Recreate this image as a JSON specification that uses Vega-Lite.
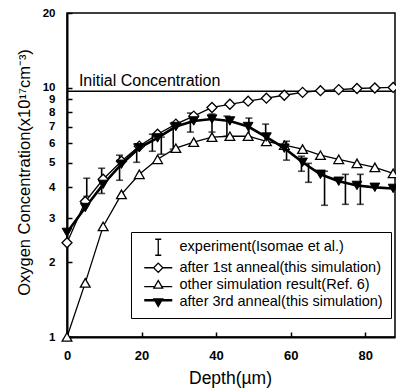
{
  "$schema": "https://vega.github.io/schema/vega-lite/v6.json",
  "width": 328,
  "height": 324,
  "autosize": {"type": "none"},
  "padding": {"left": 67, "top": 13, "right": 1, "bottom": 51},
  "background": "white",
  "config": {
    "view": {"stroke": "black", "strokeWidth": 1.5},
    "font": "Liberation Sans",
    "axis": {"grid": false, "domainColor": "black", "domainWidth": 2, "tickColor": "black", "tickWidth": 1.5, "tickSize": -5, "labelColor": "black", "titleColor": "black", "labelFont": "Liberation Sans", "titleFont": "Liberation Sans", "labelFontSize": 13, "labelFontWeight": "bold", "titleFontWeight": "normal", "labelFlush": false, "labelOverlap": false, "labelPadding": 17}
  },
  "datasets": {
    "init": [{"label": "Initial Concentration", "y": 9.7}],
    "legendrows": [
      {"series": "experiment(Isomae et al.)"},
      {"series": "after 1st anneal(this simulation)"},
      {"series": "other simulation result(Ref. 6)"},
      {"series": "after 3rd anneal(this simulation)"}
    ],
    "sim": [
      {"series": "after 1st anneal(this simulation)", "x": 0, "y": 2.39},
      {"series": "after 1st anneal(this simulation)", "x": 4.9, "y": 3.5},
      {"series": "after 1st anneal(this simulation)", "x": 9.7, "y": 4.3},
      {"series": "after 1st anneal(this simulation)", "x": 14.6, "y": 5.08},
      {"series": "after 1st anneal(this simulation)", "x": 19.4, "y": 5.84},
      {"series": "after 1st anneal(this simulation)", "x": 24.3, "y": 6.52},
      {"series": "after 1st anneal(this simulation)", "x": 29.2, "y": 7.16},
      {"series": "after 1st anneal(this simulation)", "x": 34, "y": 7.71},
      {"series": "after 1st anneal(this simulation)", "x": 38.9, "y": 8.35},
      {"series": "after 1st anneal(this simulation)", "x": 43.7, "y": 8.6},
      {"series": "after 1st anneal(this simulation)", "x": 48.6, "y": 8.85},
      {"series": "after 1st anneal(this simulation)", "x": 53.5, "y": 9.1},
      {"series": "after 1st anneal(this simulation)", "x": 58.3, "y": 9.35},
      {"series": "after 1st anneal(this simulation)", "x": 63.2, "y": 9.6},
      {"series": "after 1st anneal(this simulation)", "x": 68, "y": 9.75},
      {"series": "after 1st anneal(this simulation)", "x": 72.9, "y": 9.85},
      {"series": "after 1st anneal(this simulation)", "x": 77.8, "y": 9.95},
      {"series": "after 1st anneal(this simulation)", "x": 82.6, "y": 10.0},
      {"series": "after 1st anneal(this simulation)", "x": 87.5, "y": 10.05},
      {"series": "other simulation result(Ref. 6)", "x": 0, "y": 1.0},
      {"series": "other simulation result(Ref. 6)", "x": 4.9, "y": 1.65},
      {"series": "other simulation result(Ref. 6)", "x": 9.7, "y": 2.78},
      {"series": "other simulation result(Ref. 6)", "x": 14.6, "y": 3.74},
      {"series": "other simulation result(Ref. 6)", "x": 19.4, "y": 4.5},
      {"series": "other simulation result(Ref. 6)", "x": 24.3, "y": 5.17},
      {"series": "other simulation result(Ref. 6)", "x": 29.2, "y": 5.73},
      {"series": "other simulation result(Ref. 6)", "x": 34, "y": 6.06},
      {"series": "other simulation result(Ref. 6)", "x": 38.9, "y": 6.35},
      {"series": "other simulation result(Ref. 6)", "x": 43.7, "y": 6.4},
      {"series": "other simulation result(Ref. 6)", "x": 48.6, "y": 6.4},
      {"series": "other simulation result(Ref. 6)", "x": 53.5, "y": 6.1},
      {"series": "other simulation result(Ref. 6)", "x": 58.3, "y": 5.89},
      {"series": "other simulation result(Ref. 6)", "x": 63.2, "y": 5.68},
      {"series": "other simulation result(Ref. 6)", "x": 68, "y": 5.37},
      {"series": "other simulation result(Ref. 6)", "x": 72.9, "y": 5.17},
      {"series": "other simulation result(Ref. 6)", "x": 77.8, "y": 4.98},
      {"series": "other simulation result(Ref. 6)", "x": 82.6, "y": 4.8},
      {"series": "other simulation result(Ref. 6)", "x": 87.5, "y": 4.54},
      {"series": "after 3rd anneal(this simulation)", "x": 0, "y": 2.63},
      {"series": "after 3rd anneal(this simulation)", "x": 4.9, "y": 3.31},
      {"series": "after 3rd anneal(this simulation)", "x": 9.7, "y": 4.1},
      {"series": "after 3rd anneal(this simulation)", "x": 14.6, "y": 4.94},
      {"series": "after 3rd anneal(this simulation)", "x": 19.4, "y": 5.75},
      {"series": "after 3rd anneal(this simulation)", "x": 24.3, "y": 6.3},
      {"series": "after 3rd anneal(this simulation)", "x": 29.2, "y": 7.0},
      {"series": "after 3rd anneal(this simulation)", "x": 34, "y": 7.37},
      {"series": "after 3rd anneal(this simulation)", "x": 38.9, "y": 7.5},
      {"series": "after 3rd anneal(this simulation)", "x": 43.7, "y": 7.37},
      {"series": "after 3rd anneal(this simulation)", "x": 48.6, "y": 7.0},
      {"series": "after 3rd anneal(this simulation)", "x": 53.5, "y": 6.35},
      {"series": "after 3rd anneal(this simulation)", "x": 58.3, "y": 5.73},
      {"series": "after 3rd anneal(this simulation)", "x": 63.2, "y": 5.03},
      {"series": "after 3rd anneal(this simulation)", "x": 68, "y": 4.5},
      {"series": "after 3rd anneal(this simulation)", "x": 72.9, "y": 4.22},
      {"series": "after 3rd anneal(this simulation)", "x": 77.8, "y": 4.06},
      {"series": "after 3rd anneal(this simulation)", "x": 82.6, "y": 3.99},
      {"series": "after 3rd anneal(this simulation)", "x": 87.5, "y": 3.95}
    ],
    "exp": [
      {"x": 5.3, "lo": 3.67, "hi": 4.34},
      {"x": 9.3, "lo": 3.77, "hi": 4.76},
      {"x": 14.1, "lo": 4.26, "hi": 5.37},
      {"x": 18.7, "lo": 5.03, "hi": 5.95},
      {"x": 22.9, "lo": 5.57, "hi": 6.52},
      {"x": 25.3, "lo": 5.42, "hi": 6.35},
      {"x": 28.5, "lo": 5.68, "hi": 7.22},
      {"x": 33.1, "lo": 6.65, "hi": 7.93},
      {"x": 38.9, "lo": 6.65, "hi": 7.86},
      {"x": 42.9, "lo": 6.4, "hi": 7.71},
      {"x": 48.8, "lo": 6.35, "hi": 7.57},
      {"x": 53.3, "lo": 5.89, "hi": 7.16},
      {"x": 58.9, "lo": 5.13, "hi": 6.11},
      {"x": 62.9, "lo": 4.63, "hi": 5.32},
      {"x": 64.8, "lo": 4.18, "hi": 4.98},
      {"x": 69.1, "lo": 3.38, "hi": 4.63},
      {"x": 74.7, "lo": 3.41, "hi": 4.5},
      {"x": 78.7, "lo": 3.41, "hi": 4.5}
    ]
  },
  "layer": [
    {
      "data": {"name": "sim"},
      "transform": [{"filter": "datum.series !== 'after 3rd anneal(this simulation)'"}],
      "mark": {"type": "line", "color": "black", "strokeWidth": 1.3},
      "encoding": {
        "x": {"field": "x", "type": "quantitative", "scale": {"domain": [0, 88], "nice": false, "zero": false},
              "axis": {"values": [0, 20, 40, 60, 80], "title": "Depth(µm)", "titleFontSize": 17.5, "titleX": 163, "titleY": 41, "titleBaseline": "middle", "titleAlign": "center"}},
        "y": {"field": "y", "type": "quantitative", "scale": {"type": "log", "domain": [1, 20], "nice": false},
              "axis": {"values": [1, 2, 3, 4, 5, 6, 7, 8, 9, 10, 20], "format": "d", "labelFontSize": 11.5, "title": "Oxygen Concentration(x10¹⁷cm⁻³)", "titleFontSize": 16.5, "titleX": -43, "titleY": 159, "titleAngle": -90, "titleBaseline": "middle", "titleAlign": "center"}},
        "detail": {"field": "series", "type": "nominal"}
      }
    },
    {
      "data": {"name": "sim"},
      "transform": [{"filter": "datum.series === 'after 3rd anneal(this simulation)'"}],
      "mark": {"type": "line", "color": "black", "strokeWidth": 2.6},
      "encoding": {
        "x": {"field": "x", "type": "quantitative"},
        "y": {"field": "y", "type": "quantitative"}
      }
    },
    {
      "data": {"name": "exp"},
      "mark": {"type": "rule", "color": "black", "strokeWidth": 1.6},
      "encoding": {
        "x": {"field": "x", "type": "quantitative"},
        "y": {"field": "lo", "type": "quantitative"},
        "y2": {"field": "hi"}
      }
    },
    {
      "data": {"name": "exp"},
      "mark": {"type": "tick", "orient": "horizontal", "color": "black", "size": 7, "thickness": 1.6},
      "encoding": {
        "x": {"field": "x", "type": "quantitative"},
        "y": {"field": "lo", "type": "quantitative"}
      }
    },
    {
      "data": {"name": "exp"},
      "mark": {"type": "tick", "orient": "horizontal", "color": "black", "size": 7, "thickness": 1.6},
      "encoding": {
        "x": {"field": "x", "type": "quantitative"},
        "y": {"field": "hi", "type": "quantitative"}
      }
    },
    {
      "data": {"name": "init"},
      "mark": {"type": "rule", "color": "black", "strokeWidth": 1.6},
      "encoding": {"y": {"field": "y", "type": "quantitative"}}
    },
    {
      "data": {"name": "init"},
      "mark": {"type": "text", "align": "left", "baseline": "alphabetic", "dy": -5, "fontSize": 16, "font": "Liberation Sans", "color": "black"},
      "encoding": {"x": {"datum": 3.2}, "y": {"field": "y", "type": "quantitative"}, "text": {"field": "label"}}
    },
    {
      "data": {"name": "sim"},
      "transform": [{"filter": "datum.series === 'after 1st anneal(this simulation)'"}],
      "mark": {"type": "point", "shape": "diamond", "filled": true, "fill": "white", "stroke": "black", "strokeWidth": 1.3, "size": 100, "opacity": 1},
      "encoding": {
        "x": {"field": "x", "type": "quantitative"},
        "y": {"field": "y", "type": "quantitative"}
      }
    },
    {
      "data": {"name": "sim"},
      "transform": [{"filter": "datum.series === 'other simulation result(Ref. 6)'"}],
      "mark": {"type": "point", "shape": "triangle-up", "filled": true, "fill": "white", "stroke": "black", "strokeWidth": 1.3, "size": 95, "opacity": 1},
      "encoding": {
        "x": {"field": "x", "type": "quantitative"},
        "y": {"field": "y", "type": "quantitative"}
      }
    },
    {
      "data": {"name": "sim"},
      "transform": [{"filter": "datum.series === 'after 3rd anneal(this simulation)'"}],
      "mark": {"type": "point", "shape": "triangle-down", "filled": true, "fill": "black", "stroke": "black", "strokeWidth": 1, "size": 95, "opacity": 1},
      "encoding": {
        "x": {"field": "x", "type": "quantitative"},
        "y": {"field": "y", "type": "quantitative"}
      }
    },
    {
      "data": {"name": "legendrows"},
      "mark": {"type": "point", "filled": false, "stroke": "black", "strokeWidth": 1.3, "size": 64, "opacity": 0},
      "encoding": {
        "shape": {
          "field": "series", "type": "nominal",
          "scale": {"domain": ["experiment(Isomae et al.)", "after 1st anneal(this simulation)", "other simulation result(Ref. 6)", "after 3rd anneal(this simulation)"],
                    "range": [
                      "M0,-2L0,2M-0.75,-2L0.75,-2M-0.75,2L0.75,2",
                      "M-3.5,0L-1.15,0M1.15,0L3.5,0M-1.15,0L0,-1.15L1.15,0L0,1.15Z",
                      "M-3.5,0.35L-0.9,0.35M0.9,0.35L3.5,0.35M-1.1,0.7L0,-1.2L1.1,0.7Z",
                      "M-3.5,-0.5L3.5,-0.5M-3.5,-0.2L3.5,-0.2M-1.1,-0.7L1.1,-0.7L0,1.2ZM-0.75,-0.5L0.75,-0.5L0,0.75ZM-0.4,-0.3L0.4,-0.3L0,0.35Z"
                    ]},
          "legend": {
            "orient": "none", "legendX": 64, "legendY": 219, "title": null,
            "strokeColor": "black", "fillColor": "white", "padding": 8, "cornerRadius": 0,
            "labelFont": "Liberation Sans", "labelFontSize": 14.5, "labelColor": "black",
            "labelOffset": 14, "symbolOffset": 12, "rowPadding": 1.5, "symbolSize": 64,
            "symbolStrokeColor": "black", "symbolStrokeWidth": 1.3, "symbolOpacity": 1, "labelLimit": 400,
            "encode": {"legend": {"strokeWidth": {"value": 1.5}}}
          }
        }
      }
    }
  ]
}
